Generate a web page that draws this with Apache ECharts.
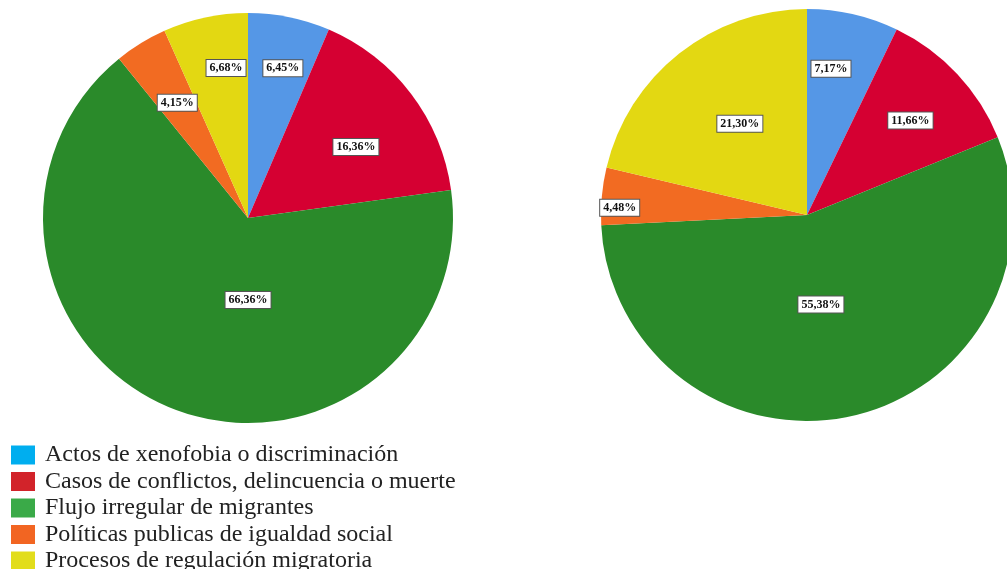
<!DOCTYPE html>
<html><head><meta charset="utf-8">
<script src="https://cdn.jsdelivr.net/npm/echarts@6/dist/echarts.min.js"></script>
<style>html,body{margin:0;padding:0;background:#fff}#c{width:1007px;height:569px}</style>
</head><body><div id="c"></div>
<script>
const categories = ["Actos de xenofobia o discriminación","Casos de conflictos, delincuencia o muerte","Flujo irregular de migrantes","Políticas publicas de igualdad social","Procesos de regulación migratoria"];
const leftValues = [6.45, 16.36, 66.36, 4.15, 6.68];
const rightValues = [7.17, 11.66, 55.38, 4.48, 21.30];

const sliceColors = ["#5597E6","#D50032","#2A8A2A","#F26B22","#E3D812"];
const legendColors = ["#00AEEF","#D2232A","#3AAA48","#F26522","#E2DD1B"];
const pies = [
  {center:[248,218], r:205, frac:[0.75,0.63,0.40,0.66,0.74], dAng:[1.5,4,-21.6,0,3.7]},
  {center:[807,215], r:206, frac:[0.72,0.68,0.44,0.91,0.55], dAng:[-3.6,0.8,3.7,-3,2]}
];
const allValues = [leftValues, rightValues];

function fmt(v){ return v.toFixed(2).replace('.', ',') + '%'; }

function makeLayout(si){
  const vals = allValues[si], p = pies[si];
  const tot = vals.reduce((a,b)=>a+b,0);
  return function(params){
    let cum = 0;
    for (let i=0;i<params.dataIndex;i++) cum += vals[i];
    const mid = (cum + vals[params.dataIndex]/2)/tot*360 + p.dAng[params.dataIndex];
    const a = mid*Math.PI/180;
    const rr = p.r*p.frac[params.dataIndex];
    return {x: p.center[0] + rr*Math.sin(a), y: p.center[1] - rr*Math.cos(a), align:'center', verticalAlign:'middle'};
  };
}

function series(si){
  const vals = allValues[si], p = pies[si];
  return {
    type:'pie', center:p.center, radius:[0,p.r], startAngle:90, clockwise:true,
    animation:false, silent:true,
    data: categories.map((c,i)=>({name:c, value:vals[i], itemStyle:{color:sliceColors[i]}})),
    label:{show:true, position:'inside', formatter:(q)=>fmt(vals[q.dataIndex]),
      fontFamily:'Liberation Serif, serif', fontWeight:'bold', fontSize:12, color:'#111',
      backgroundColor:'#fff', borderColor:'#555', borderWidth:1, padding:[2,3,2,3]},
    labelLine:{show:false},
    labelLayout: makeLayout(si),
    emphasis:{disabled:true}
  };
}

const chart = echarts.init(document.getElementById('c'));
chart.setOption({
  backgroundColor:'#fff',
  legend:{
    orient:'vertical', left:6, top:438, height:300, itemWidth:24, itemHeight:19, itemGap:2.5,
    icon:'rect', selectedMode:false,
    textStyle:{fontFamily:'Liberation Serif, serif', fontSize:24, color:'#222', padding:[0,0,0,5]},
    data: categories.map((c,i)=>({name:c, itemStyle:{color:legendColors[i]}}))
  },
  series:[series(0), series(1)]
});
</script></body></html>
